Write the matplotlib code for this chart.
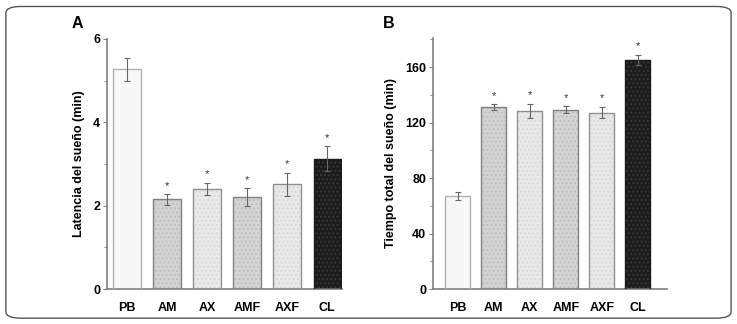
import matplotlib.pyplot as plt
import matplotlib.patches as mpatches
import numpy as np

plt.rcParams['font.family'] = ['Liberation Sans', 'DejaVu Sans']
plt.rcParams['hatch.linewidth'] = 0.8

groups = ['PB', 'AM', 'AX', 'AMF', 'AXF', 'CL']
latencia = [5.27, 2.15, 2.40, 2.21, 2.51, 3.12]
latencia_err = [0.28, 0.13, 0.15, 0.21, 0.28, 0.30]
tiempo = [66.8, 131.2, 128.5, 129.3, 127.2, 165.3]
tiempo_err = [3.0, 2.0, 5.0, 2.5, 4.0, 3.5]
signif = ['', '*', '*', '*', '*', '*']

faces = ['#f7f7f7', '#d2d2d2', '#e9e9e9', '#d4d4d4', '#e8e8e8', '#1c1c1c']
dots = ['#f7f7f7', '#bdbdbd', '#d8d8d8', '#bdbdbd', '#d6d6d6', '#3a3a3a']
edges = ['#b0b0b0', '#808080', '#909090', '#808080', '#909090', '#1c1c1c']
spine_col = '#7f7f7f'

fig = plt.figure(figsize=(7.37, 3.24), dpi=100)

frame = mpatches.FancyBboxPatch((0.008, 0.018), 0.984, 0.962,
                                boxstyle='round,pad=0,rounding_size=0.02',
                                transform=fig.transFigure, fill=False,
                                edgecolor='#555555', linewidth=1.0)
fig.patches.append(frame)


def panel(rect, vals, errs, ylim, yticks, minor, xlim, width, ylabel, letter, letter_x, star_off):
    ax = fig.add_axes(rect)
    x = np.arange(len(groups))
    for i in range(len(groups)):
        ax.bar(x[i], vals[i], width=width, color=faces[i], edgecolor=dots[i],
               hatch='....', linewidth=0, zorder=2)
        ax.bar(x[i], vals[i], width=width, fill=False, edgecolor=edges[i],
               linewidth=1.0, zorder=3)
    ax.errorbar(x, vals, yerr=errs, fmt='none', ecolor='#666666',
                elinewidth=0.8, capsize=2.2, capthick=0.8, zorder=4)
    for i in range(len(groups)):
        if signif[i]:
            ax.text(x[i], vals[i] + errs[i] + star_off, signif[i], ha='center',
                    va='bottom', fontsize=8, color='#333333')
    ax.set_xlim(*xlim)
    ax.set_ylim(*ylim)
    ax.set_yticks(yticks)
    ax.set_yticks(minor, minor=True)
    ax.set_xticks(x)
    ax.set_xticklabels(groups, fontsize=9, fontweight='bold')
    ax.tick_params(axis='x', length=0, pad=9)
    ax.tick_params(axis='y', which='major', length=3, width=0.8, color=spine_col,
                   labelsize=9, pad=2)
    ax.tick_params(axis='y', which='minor', length=2, width=0.6, color=spine_col)
    for t in ax.get_yticklabels():
        t.set_fontweight('bold')
    for s in ['top', 'right']:
        ax.spines[s].set_visible(False)
    for s in ['left', 'bottom']:
        ax.spines[s].set_color(spine_col)
        ax.spines[s].set_linewidth(1.2)
    ax.set_ylabel(ylabel, fontsize=9, fontweight='bold', labelpad=6)
    fig.text(letter_x, 0.905, letter, fontsize=11.5, fontweight='bold',
             ha='left', va='bottom')
    return ax


panel([0.1452, 0.108, 0.319, 0.772], latencia, latencia_err, (0, 6),
      [0, 2, 4, 6], [1, 3, 5], (-0.5, 5.375), 0.68,
      'Latencia del sueño (min)', 'A', 72 / 737, 0.08)

panel([0.5875, 0.108, 0.3175, 0.775], tiempo, tiempo_err, (0, 181),
      [0, 40, 80, 120, 160], [20, 60, 100, 140, 180], (-0.69, 5.81), 0.7,
      'Tiempo total del sueño (min)', 'B', 383 / 737, 2.5)

fig.savefig('out.png', dpi=100)
